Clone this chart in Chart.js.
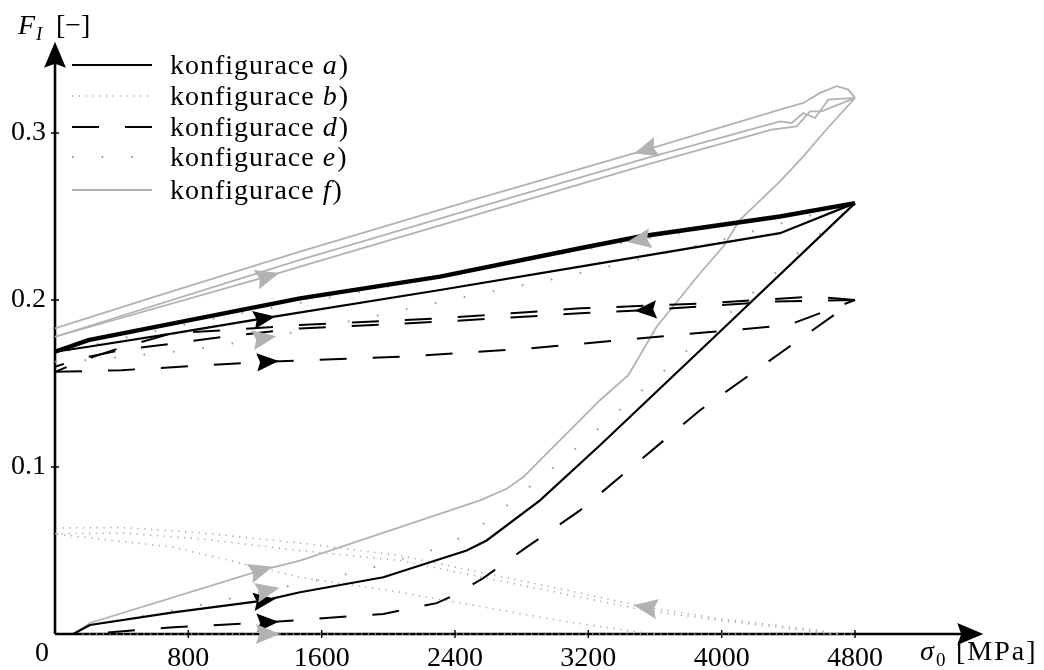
<!DOCTYPE html>
<html>
<head>
<meta charset="utf-8">
<script src="https://cdn.jsdelivr.net/npm/chart.js@4.4.1/dist/chart.umd.min.js"></script>
<style>
  html, body { margin: 0; background: #fff; }
  #wrap { width: 1044px; height: 670px; }
</style>
</head>
<body>
<div id="wrap"><canvas id="c" width="1044" height="670"></canvas></div>
<script>
const xTicks = [0, 800, 1600, 2400, 3200, 4000, 4800]
const yTicks = [0.1, 0.2, 0.3]

// [sigma_0 MPa, F_I], in the order the path is travelled
// konfigurace a)
const aLoad = [[0, 0], [110, 0], [210, 0.0054], [710, 0.013], [1250, 0.020], [1470, 0.025], [1970, 0.034], [2470, 0.050], [2590, 0.056], [2910, 0.080], [3270, 0.113], [4000, 0.182], [4800, 0.258]]
const aUnload = [[4800, 0.258], [4350, 0.250], [3510, 0.238], [3150, 0.231], [2310, 0.214], [1470, 0.201], [710, 0.186], [200, 0.176], [0, 0.169]]
const aReload = [[0, 0.169], [200, 0.172], [710, 0.180], [1250, 0.189], [2310, 0.206], [3150, 0.220], [4350, 0.240], [4800, 0.258]]

// konfigurace b)
const bLoad = [[0, 0], [4800, 0]]
const bUnload = [[4650, 0], [4600, 0.002], [4000, 0.009], [3550, 0.016], [3030, 0.027], [2070, 0.047], [1470, 0.0545], [870, 0.0606], [400, 0.0638], [0, 0.0635]]
const bReload = [[0, 0.060], [400, 0.0605], [870, 0.057], [1470, 0.050], [2070, 0.044], [3030, 0.0245], [3550, 0.014], [4000, 0.008], [4600, 0.001], [4700, 0]]
const bUnload2 = [[3600, 0], [3510, 0.001], [3030, 0.008], [2070, 0.025], [1470, 0.034], [710, 0.052], [170, 0.058], [0, 0.060]]

// konfigurace d)
const dLoad = [[0, 0], [200, 0], [710, 0.004], [1270, 0.007], [1970, 0.012], [2290, 0.0185], [2410, 0.024], [2570, 0.0335], [2830, 0.052], [3150, 0.074], [3870, 0.134], [4800, 0.200]]
const dUnload = [[4800, 0.200], [4550, 0.202], [3900, 0.198], [3150, 0.195], [2310, 0.189], [1470, 0.185], [1030, 0.182], [700, 0.180], [380, 0.171], [230, 0.166], [100, 0.161], [0, 0.157]]
const dReload = [[0, 0.157], [400, 0.158], [1270, 0.163], [2070, 0.166], [2850, 0.171], [3500, 0.177], [4400, 0.185], [4800, 0.200]]
const dUnload2 = [[4800, 0.200], [4300, 0.199], [3550, 0.194], [3150, 0.192], [2310, 0.187], [1470, 0.183], [1010, 0.178], [710, 0.174], [400, 0.170], [150, 0.165], [0, 0.160]]

// konfigurace e)
const eLoad = [[0, 0], [90, 0.002], [450, 0.0096], [790, 0.0156], [1270, 0.026], [1810, 0.037], [2320, 0.052], [2480, 0.060], [2630, 0.070], [2760, 0.081], [3030, 0.103], [3170, 0.115], [4000, 0.188], [4800, 0.258]]
const eUnload = [[4800, 0.258], [3510, 0.236], [3110, 0.229], [2610, 0.220], [2270, 0.213], [1730, 0.203], [1000, 0.190], [400, 0.177], [0, 0.168]]
const eReload = [[0, 0.163], [200, 0.164], [810, 0.170], [1250, 0.177], [1850, 0.189], [2370, 0.200], [3060, 0.214], [4000, 0.236], [4800, 0.258]]

// konfigurace f)
const fLoad = [[0, 0], [110, 0], [210, 0.0066], [1230, 0.038], [1470, 0.044], [2550, 0.080], [2710, 0.087], [2810, 0.094], [3270, 0.140], [3440, 0.155], [3610, 0.184], [3870, 0.216], [4010, 0.232], [4110, 0.248], [4350, 0.271], [4490, 0.286], [4610, 0.300], [4800, 0.321]]
const fUnload = [[4800, 0.321], [4760, 0.326], [4690, 0.328], [4590, 0.324], [4490, 0.318], [4350, 0.314], [3550, 0.290], [2510, 0.260], [1470, 0.229], [600, 0.202], [0, 0.183]]
const fReload = [[0, 0.178], [1270, 0.214], [1470, 0.220], [2830, 0.260], [3550, 0.281], [4300, 0.302], [4450, 0.304], [4530, 0.313], [4600, 0.313], [4800, 0.321]]
const fUnload2 = [[4800, 0.321], [4640, 0.320], [4560, 0.309], [4490, 0.312], [4420, 0.306], [4350, 0.307], [3550, 0.285], [2690, 0.260], [1470, 0.224], [0, 0.178]]

// arrowheads: which path, at which sigma_0
const arrowMarks = [
  ['aLoad', 1250], ['aReload', 1250], ['eUnload', 3510],
  ['dLoad', 1270], ['dReload', 1270], ['dUnload2', 3550],
  ['eLoad', 1270], ['eReload', 1250],
  ['fLoad', 1230], ['fReload', 1270], ['fUnload', 3550],
  ['bLoad', 1270], ['bUnload', 3550]
]

const paths = { aLoad, aUnload, aReload, bLoad, bUnload, bReload, bUnload2, dLoad, dUnload, dReload, dUnload2, eLoad, eUnload, eReload, fLoad, fUnload, fReload, fUnload2 }

const FONT = '"Liberation Serif", "DejaVu Serif", serif'
const GRAY = '#b2b2b2'

const styles = {
  a: { borderColor: '#000', borderWidth: 2.2 },
  aThick: { borderColor: '#000', borderWidth: 4.4 },
  b: { borderColor: '#a6a6a6', borderWidth: 1.6, borderDash: [1.2, 5.6] },
  d: { borderColor: '#000', borderWidth: 2, borderDash: [27, 26] },
  e: { borderColor: '#999', borderWidth: 2, borderDash: [1.6, 28] },
  f: { borderColor: GRAY, borderWidth: 1.8 }
}

const datasets = []
function addPath(pts, style, order) {
  datasets.push(Object.assign({
    data: pts.map(p => ({ x: p[0], y: p[1] })),
    showLine: true, pointRadius: 0, pointHoverRadius: 0, fill: false,
    tension: 0, clip: 10, order
  }, style))
}
addPath(aLoad, styles.a, 1)
addPath(aUnload, styles.aThick, 1)
addPath(aReload, styles.a, 1)
addPath(dLoad, styles.d, 2)
addPath(dUnload, styles.d, 2)
addPath(dReload, styles.d, 2)
addPath(dUnload2, styles.d, 2)
addPath(fLoad, styles.f, 3)
addPath(fUnload, styles.f, 3)
addPath(fReload, styles.f, 3)
addPath(fUnload2, styles.f, 3)
addPath(eLoad, styles.e, 4)
addPath(eUnload, styles.e, 4)
addPath(eReload, styles.e, 4)
addPath(bLoad, styles.b, 5)
addPath(bUnload, styles.b, 5)
addPath(bReload, styles.b, 5)
addPath(bUnload2, styles.b, 5)

const legendRows = [
  ['a', styles.a, 65],
  ['b', styles.b, 96],
  ['d', styles.d, 127],
  ['e', styles.e, 157],
  ['f', styles.f, 190]
]

function arrowHead(ctx, px, py, ang, color, size) {
  ctx.save()
  ctx.translate(px, py)
  ctx.rotate(ang)
  ctx.fillStyle = color
  ctx.beginPath()
  ctx.moveTo(size * 0.55, 0)
  ctx.lineTo(-size * 0.45, -size * 0.42)
  ctx.lineTo(-size * 0.3, 0)
  ctx.lineTo(-size * 0.45, size * 0.42)
  ctx.closePath()
  ctx.fill()
  ctx.restore()
}

const decor = {
  id: 'decor',
  beforeDatasetsDraw(chart) {
    const { ctx, chartArea: a, scales: { x, y } } = chart
    ctx.save()
    ctx.strokeStyle = '#000'
    ctx.lineWidth = 2.6
    ctx.beginPath()
    ctx.moveTo(a.left, a.bottom); ctx.lineTo(a.right - 10, a.bottom)
    ctx.moveTo(a.left, a.bottom); ctx.lineTo(a.left, a.top + 10)
    ctx.stroke()
    arrowHead(ctx, a.right - 8, a.bottom, 0, '#000', 26)
    arrowHead(ctx, a.left, a.top + 8, -Math.PI / 2, '#000', 26)
    ctx.lineWidth = 1.4
    ctx.beginPath()
    xTicks.forEach(v => {
      if (!v) return
      const px = x.getPixelForValue(v)
      ctx.moveTo(px, a.bottom - 4); ctx.lineTo(px, a.bottom + 4)
    })
    yTicks.forEach(v => {
      const py = y.getPixelForValue(v)
      ctx.moveTo(a.left - 4, py); ctx.lineTo(a.left + 4, py)
    })
    ctx.stroke()
    ctx.restore()
  },
  afterDatasetsDraw(chart) {
    const { ctx, scales: { x, y } } = chart
    ctx.save()
    // arrowheads on the curves
    arrowMarks.forEach(([name, at]) => {
      const pts = paths[name]
      for (let i = 0; i < pts.length - 1; i++) {
        const x0 = pts[i][0], x1 = pts[i + 1][0]
        if ((at - x0) * (at - x1) > 0 || x0 === x1) continue
        const p0 = { x: x.getPixelForValue(x0), y: y.getPixelForValue(pts[i][1]) }
        const p1 = { x: x.getPixelForValue(x1), y: y.getPixelForValue(pts[i + 1][1]) }
        const t = (at - x0) / (x1 - x0)
        const ang = Math.atan2(p1.y - p0.y, p1.x - p0.x)
        const black = name[0] === 'a' || name[0] === 'd'
        arrowHead(ctx, p0.x + (p1.x - p0.x) * t, p0.y + (p1.y - p0.y) * t, ang, black ? '#000' : GRAY, black ? 22 : 24)
        break
      }
    })

    // axis titles and the shared zero
    ctx.fillStyle = '#000'
    ctx.textBaseline = 'alphabetic'
    ctx.font = '28px ' + FONT
    ctx.fillText('0', 35, 661)
    ctx.font = 'italic 28px ' + FONT
    ctx.fillText('F', 18, 34)
    ctx.font = 'italic 19px ' + FONT
    ctx.fillText('I', 36, 40)
    ctx.font = '28px ' + FONT
    ctx.fillText('[−]', 56, 34)

    ctx.font = 'italic 28px ' + FONT
    ctx.fillText('σ', 920, 660)
    ctx.font = '19px ' + FONT
    ctx.fillText('0', 936, 666)
    ctx.font = '28px ' + FONT
    ctx.letterSpacing = '2px'
    ctx.fillText('[MPa]', 956, 660)
    ctx.letterSpacing = '0px'

    // legend
    legendRows.forEach(([letter, st, ly]) => {
      ctx.save()
      ctx.strokeStyle = st.borderColor
      ctx.lineWidth = st.borderWidth
      ctx.setLineDash(st.borderDash || [])
      ctx.beginPath()
      ctx.moveTo(72, ly); ctx.lineTo(152, ly)
      ctx.stroke()
      ctx.restore()
      ctx.letterSpacing = '1px'
      ctx.font = '28px ' + FONT
      let tx = 170
      ctx.fillText('konfigurace ', tx, ly + 9)
      tx += ctx.measureText('konfigurace ').width
      ctx.font = 'italic 28px ' + FONT
      ctx.fillText(letter, tx, ly + 9)
      tx += ctx.measureText(letter).width + 1
      ctx.font = '28px ' + FONT
      ctx.fillText(')', tx, ly + 9)
      ctx.letterSpacing = '0px'
    })
    ctx.restore()
  }
}

new Chart(document.getElementById('c'), {
  type: 'scatter',
  data: { datasets },
  options: {
    responsive: false,
    animation: false,
    events: [],
    layout: { padding: { left: 0, top: 48, right: 67, bottom: 0 } },
    plugins: { legend: { display: false }, tooltip: { enabled: false } },
    scales: {
      x: {
        type: 'linear', min: 0, max: 5532,
        border: { display: false },
        grid: { display: false, drawTicks: false },
        afterBuildTicks: s => { s.ticks = xTicks.map(v => ({ value: v })) },
        afterFit: s => { s.height = 36 },
        ticks: {
          padding: 8, color: '#000', maxRotation: 0, autoSkip: false,
          font: { family: FONT, size: 28 },
          callback: v => v === 0 ? '' : String(v)
        }
      },
      y: {
        type: 'linear', min: 0, max: 0.3509,
        border: { display: false },
        grid: { display: false, drawTicks: false },
        afterBuildTicks: s => { s.ticks = yTicks.map(v => ({ value: v })) },
        afterFit: s => { s.width = 55 },
        ticks: {
          padding: 9, color: '#000', autoSkip: false,
          font: { family: FONT, size: 28 },
          callback: v => String(v)
        }
      }
    }
  },
  plugins: [decor]
})
</script>
</body>
</html>
